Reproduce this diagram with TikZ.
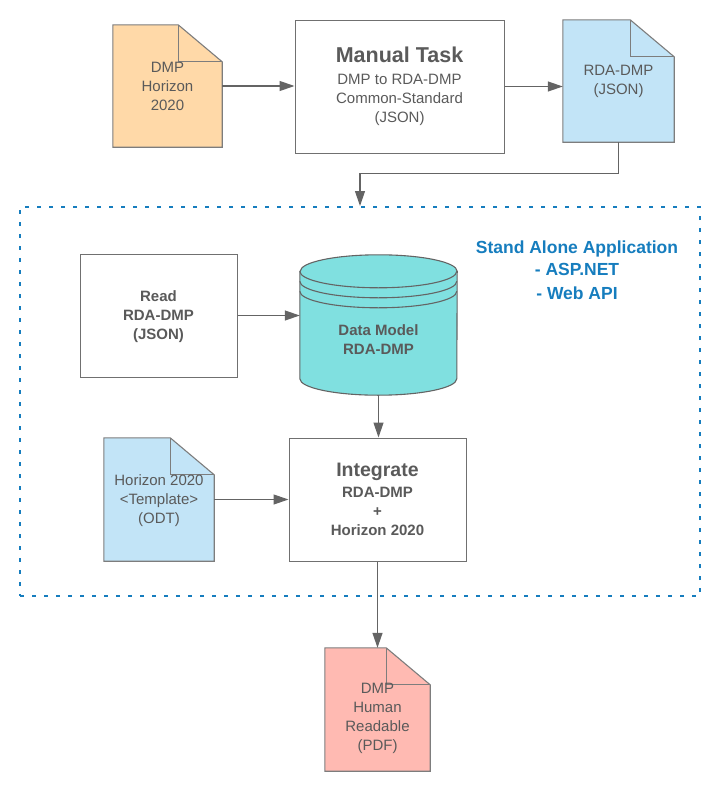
\documentclass[tikz,border=0pt]{standalone}
\usepackage{fontspec}
\setmainfont{Liberation Sans}
\usetikzlibrary{arrows.meta,backgrounds}
\definecolor{linegrey}{RGB}{100,100,100}
\definecolor{boxgrey}{RGB}{112,112,112}
\definecolor{docgrey}{RGB}{125,125,125}
\definecolor{textgrey}{RGB}{90,90,90}
\definecolor{appblue}{RGB}{22,125,190}
\definecolor{dmporange}{RGB}{255,217,168}
\definecolor{jsonblue}{RGB}{194,228,247}
\definecolor{pdfpink}{RGB}{255,186,178}
\definecolor{modelteal}{RGB}{128,224,224}

\newcommand{\docpage}[2]{%
	\filldraw[docline,fill=#2] (#1.north west) -- ([xshift=-44pt]#1.north east) -- ([yshift=-37pt]#1.north east) -- (#1.south east) -- (#1.south west) -- cycle;
	\draw[docline] ([xshift=-44pt]#1.north east) |- ([yshift=-37pt]#1.north east);
}

\begin{document}
\begin{tikzpicture}[x=1pt,y=-1pt,
		flow/.style={-{Triangle[length=15pt,width=10pt]},draw=linegrey,line width=1.2pt},
		docline/.style={draw=docgrey,line width=1.1pt,line join=miter},
		plain/.style={text=textgrey,align=center,font=\fontsize{15}{19}\selectfont},
		heavy/.style={plain,font=\fontsize{15}{19}\selectfont\bfseries},
		doc/.style={plain,inner sep=0pt,minimum height=122pt,minimum width=#1},
		taskbox/.style={draw=boxgrey,line width=1pt,fill=white,inner sep=0pt},
		appframe/.style={draw=appblue,line width=2pt,dash pattern=on 4pt off 8pt,inner sep=0pt},
		apptext/.style={text=appblue,align=center,font=\fontsize{17.5}{22.5}\selectfont\bfseries}]
	\useasboundingbox (0,0) rectangle (720,787);

	\node[doc=109pt]		(dmp)      at (167.5,86)  {DMP\\Horizon\\2020};
	\node[taskbox,plain,minimum width=209pt,minimum height=133pt] (manual) at (399.5,86.5)
		{{\fontsize{21.5}{22}\selectfont\bfseries Manual Task}\\[3pt]DMP to RDA-DMP\\Common-Standard\\(JSON)};
	\node[doc=111pt]		(rdajson)  at (618.5,81)  {RDA-DMP\\(JSON)};

	\node[appframe,minimum width=680pt,minimum height=389pt] (app) at (360,401.5) {};
	\node[apptext]			(apptitle) at (577,270)   {Stand Alone Application\\- ASP.NET\\[1pt]- Web API};

	\node[taskbox,heavy,minimum width=157pt,minimum height=123pt] (read) at (158.5,315.5) {\rule{0pt}{14pt}Read\\RDA-DMP\\(JSON)};
	\node[inner sep=0pt,minimum width=157pt,minimum height=140pt] (model) at (378.5,325) {};
	\node[heavy]			(modeltext) at ([yshift=-14.5pt]model.center) {Data Model\\RDA-DMP};

	\node[doc=110pt,minimum height=123pt] (template) at (159,499.5) {\rule{0pt}{13pt}Horizon 2020\\<Template>\\(ODT)};
	\node[taskbox,heavy,minimum width=177pt,minimum height=123pt] (integrate) at (377.5,499.5)
		{{\fontsize{19.5}{20}\selectfont Integrate}\\[2pt]RDA-DMP\\+\\Horizon 2020};

	\node[doc=105pt,minimum height=123pt] (pdf) at (377.5,709.5) {\rule{0pt}{29pt}DMP\\Human\\Readable\\(PDF)};

	\draw[flow] (dmp.east) -- (dmp.east -| manual.west);
	\draw[flow] (manual.east) -- (manual.east -| rdajson.west);
	\draw[flow] (rdajson.south) -- ++(0,31) -| (app.north);
	\draw[flow] (read.east) -- (read.east -| model.west);
	\draw[flow] (model.south) -- (model.south |- integrate.north);
	\draw[flow] (template.east) -- (template.east -| integrate.west);
	\draw[flow] (integrate.south) -- (pdf.north);

	\begin{pgfonlayer}{background}
		\docpage{dmp}{dmporange}
		\docpage{rdajson}{jsonblue}
		\docpage{template}{jsonblue}
		\docpage{pdf}{pdfpink}
		\filldraw[docline,draw=linegrey,fill=modelteal] ([yshift=-16.5pt]model.north west) -- ([yshift=16.5pt]model.south west)
			arc[start angle=180,end angle=360,x radius=78.5pt,y radius=16.5pt]
			-- ([yshift=-16.5pt]model.north east)
			arc[start angle=0,end angle=180,x radius=78.5pt,y radius=16.5pt] -- cycle;
		\draw[docline,draw=linegrey] ([yshift=-16.5pt]model.north west) arc[start angle=180,end angle=360,x radius=78.5pt,y radius=16.5pt];
		\draw[docline,draw=linegrey] ([yshift=-26.5pt]model.north west) arc[start angle=180,end angle=360,x radius=78.5pt,y radius=16.5pt];
		\draw[docline,draw=linegrey] ([yshift=-36.5pt]model.north west) arc[start angle=180,end angle=360,x radius=78.5pt,y radius=16.5pt];
	\end{pgfonlayer}
\end{tikzpicture}
\end{document}
